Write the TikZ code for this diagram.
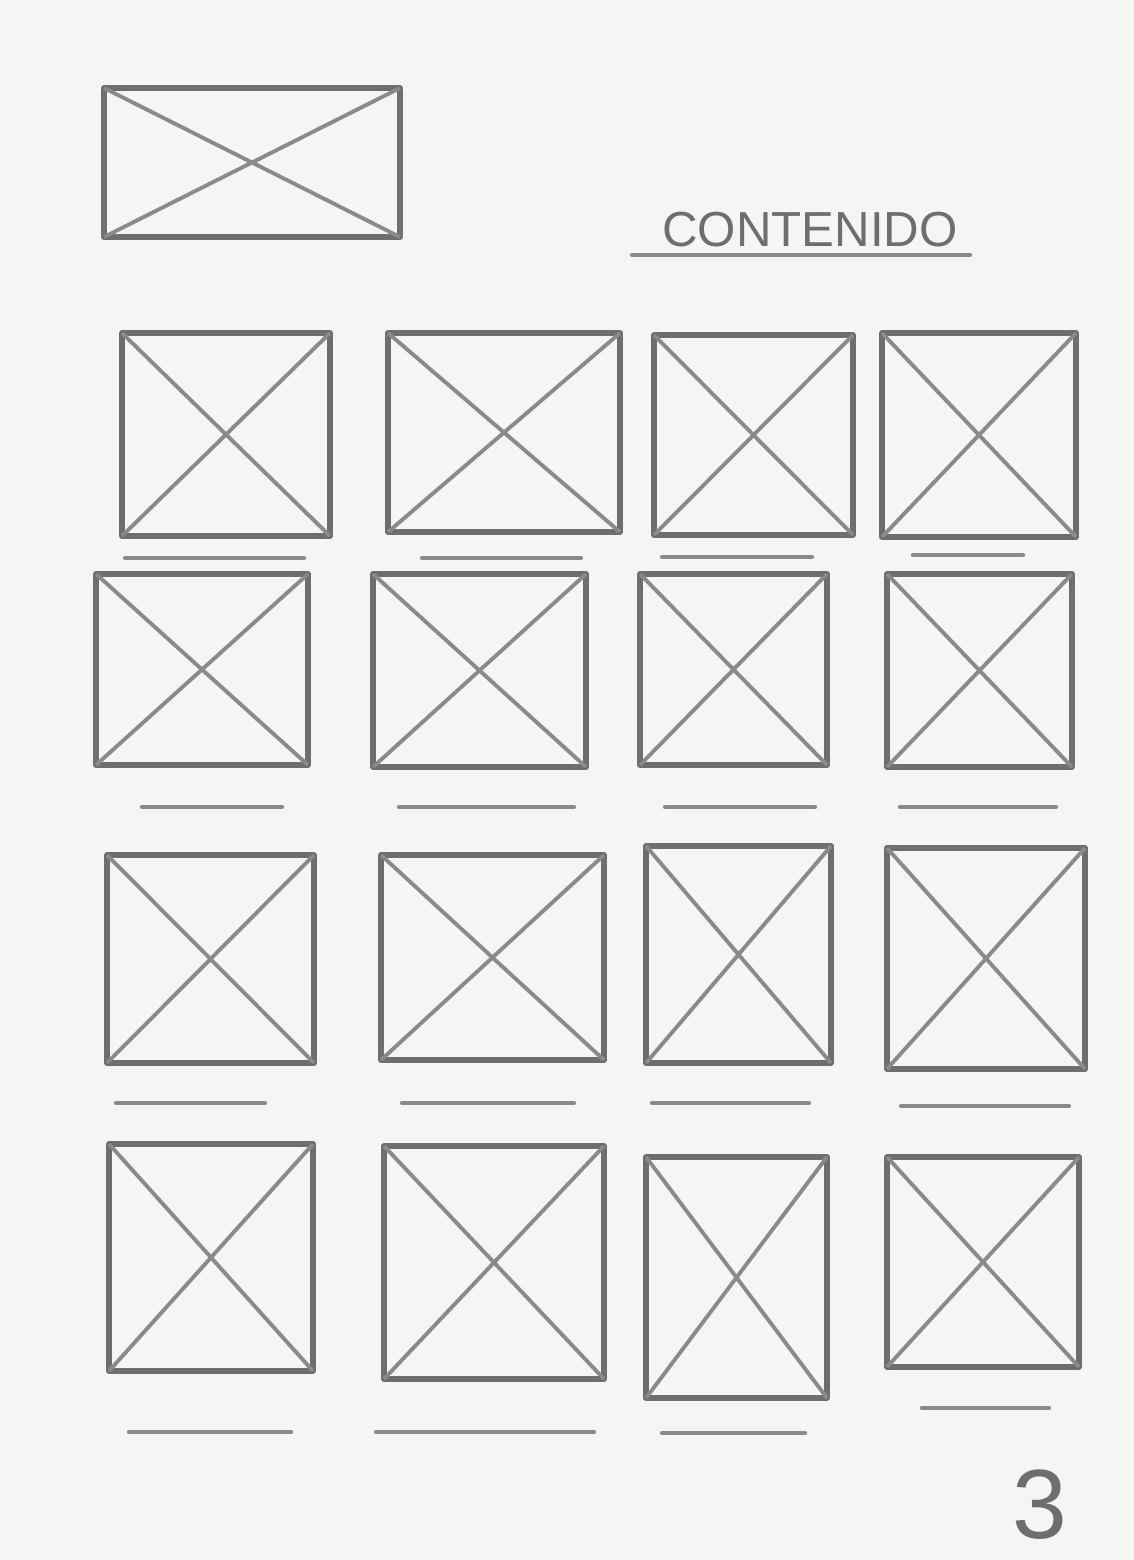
\documentclass[tikz,border=0pt]{standalone}
\usepackage{fontspec}
\setmainfont{Liberation Sans}
\usepackage{xcolor}
\usepackage{tikz}
\usetikzlibrary{positioning}

\definecolor{paper}{HTML}{F5F5F4}
\definecolor{pencil}{HTML}{6E6E6E}
\definecolor{pencillight}{HTML}{8A8A8A}

\begin{document}
\begin{tikzpicture}[
    x=0.1mm, y=-0.1mm,
    frame/.style={draw=pencil, line width=1.5pt, line join=round},
    cross/.style={draw=pencillight, line width=1.1pt},
    caption/.style={draw=pencillight, line width=1.2pt, line cap=round},
    title/.style={font=\fontsize{14}{14}\selectfont, text=pencil, inner sep=0pt},
    pagenum/.style={font=\fontsize{28}{28}\selectfont, text=pencil, inner sep=0pt}
]
% paper
\fill[paper] (0,0) rectangle (1134,1560);
\useasboundingbox (0,0) rectangle (1134,1560);

% logo
\draw[frame] (104,88) coordinate (logo nw) rectangle (400,237) coordinate (logo se);
\draw[cross] (logo nw) -- (logo se) (104,237) -- (400,88);

% heading
\node[title] (contenido) at (810,230) {CONTENIDO};
\coordinate (rule l) at (632,255);
\coordinate (rule r) at (970,255);
\draw[caption] (rule l) -- (rule r);

% thumbnails
\foreach \n/\xa/\ya/\xb/\yb in {
    a1/122/333/330/536, a2/388/333/620/532, a3/654/335/853/535, a4/882/333/1076/537,
    b1/96/574/308/765,  b2/373/574/586/767, b3/640/574/827/765, b4/887/574/1072/767,
    c1/107/855/314/1063, c2/381/855/604/1060, c3/646/846/831/1063, c4/887/848/1085/1069,
    d1/109/1144/313/1371, d2/384/1146/604/1379, d3/646/1157/827/1398, d4/887/1157/1079/1367}
{
    \draw[frame] (\xa,\ya) coordinate (\n nw) rectangle (\xb,\yb) coordinate (\n se);
    \draw[cross] (\n nw) -- (\n se) (\xa,\yb) -- (\xb,\ya);
}

% captions
\foreach \xa/\xb/\y in {
    125/304/558, 422/581/558, 662/812/557, 913/1023/555,
    142/282/807, 399/574/807, 665/815/807, 900/1056/807,
    116/265/1103, 402/574/1103, 652/809/1103, 901/1069/1106,
    129/291/1432, 376/594/1432, 662/805/1433, 922/1049/1408}
{
    \draw[caption] (\xa,\y) -- (\xb,\y);
}

% page number
\node[pagenum] (pagina) at (1040,1505) {3};
\end{tikzpicture}
\end{document}
